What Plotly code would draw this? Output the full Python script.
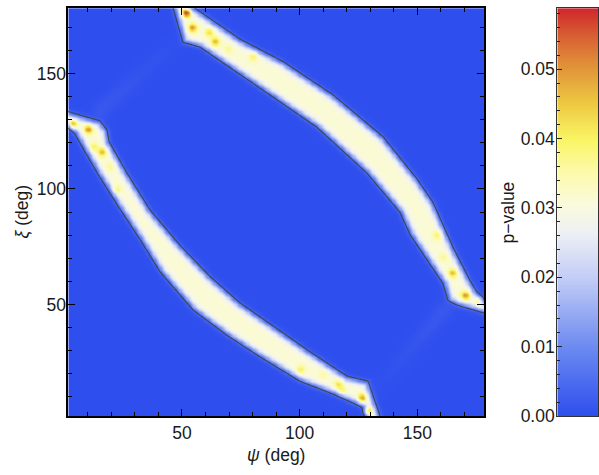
import numpy as np
import plotly.graph_objects as go

# ---------------- data ----------------
P_MAX = 0.0588            # top of the colour bar
AX_RANGE = [1.7, 178.3]   # visible psi / xi range (deg)
CORE_P = 0.0315           # p-value inside the bands
EDGE_P = 0.005            # level of the dark outline contour

# band 1 (lower-left) outline, deg
band1_psi = [-5.0, 0.0, 15.2, 18.1, 19.0, 26.6, 36.4, 48.7, 61.9, 74.6, 89.5, 104.4, 120.1, 129.0, 134.7, 136.0,
             127.5, 128.6, 126.9, 114.1, 100.1, 83.1, 69.1, 54.7, 40.7, 32.2, 23.2, 14.3, 8.8, 4.5, 0.0, -5.0]
band1_xi = [134.5, 134.0, 129.4, 125.6, 120.5, 106.9, 90.9, 76.1, 62.1, 50.7, 40.1, 29.5, 19.0, 16.8, 0.0, -5.0,
            -5.0, 0.0, 5.4, 11.3, 16.8, 27.4, 36.7, 47.7, 64.2, 78.2, 92.1, 106.5, 116.2, 123.9, 129.0, 129.5]

# band 2 (upper-right) outline, deg
band2_psi = [45.3, 45.8, 50.4, 57.6, 78.9, 107.3, 128.6, 142.6, 146.9, 160.9, 163.0, 166.8, 180.0, 185.0,
             185.0, 180.0, 177.4, 172.3, 165.1, 156.6, 149.8, 135.4, 114.1, 92.9, 74.6, 53.0, 52.4]
band2_xi = [185.0, 180.0, 163.6, 161.5, 146.7, 126.8, 106.9, 90.0, 80.3, 59.1, 51.9, 49.8, 45.8, 45.6,
            50.3, 50.5, 51.9, 60.4, 74.8, 94.2, 104.4, 122.6, 140.8, 155.2, 164.9, 180.0, 185.0]

# high p-value spots inside the bands
hot_psi = [3.0, 10.1, 12.2, 16.0, 19.4, 22.0,
           128.6, 126.4, 117.9, 116.2, 109.8, 100.1,
           51.7, 54.2, 61.5, 64.0, 69.5, 80.2,
           176.6, 170.2, 164.7, 160.9, 158.4]
hot_xi = [128.0, 126.0, 118.4, 116.2, 109.9, 99.8,
          3.8, 9.6, 12.6, 15.6, 19.8, 21.9,
          176.5, 170.0, 167.9, 164.0, 160.7, 157.7,
          52.2, 54.1, 63.8, 70.6, 80.3]
hot_p = [0.060, 0.051, 0.041, 0.047, 0.037, 0.041,
         0.060, 0.051, 0.041, 0.043, 0.036, 0.041,
         0.060, 0.051, 0.043, 0.047, 0.037, 0.041,
         0.060, 0.051, 0.047, 0.037, 0.041]

# faint light streaks between the band ends
streak_psi0 = [15.2, 160.9]
streak_xi0 = [134.4, 47.8]
streak_psi1 = [45.7, 134.1]
streak_xi1 = [162.8, 15.6]
streak_p = [0.0016, 0.0016]

x_ticks = [50, 100, 150]
y_ticks = [50, 100, 150]
cb_ticks = [0.0, 0.01, 0.02, 0.03, 0.04, 0.05]

colorscale = [
    [0.00, "rgb(46,78,238)"],
    [0.17, "rgb(108,138,240)"],
    [0.34, "rgb(195,205,246)"],
    [0.45, "rgb(238,240,245)"],
    [0.52, "rgb(250,250,222)"],
    [0.60, "rgb(252,250,170)"],
    [0.68, "rgb(250,245,100)"],
    [0.77, "rgb(237,200,65)"],
    [0.85, "rgb(226,152,58)"],
    [0.93, "rgb(216,98,50)"],
    [1.00, "rgb(208,40,45)"],
]

# ---------------- build the field ----------------
g = np.arange(0.0, 180.01, 0.5)
PS, XI = np.meshgrid(g, g)


def signed_dist(px, py):
    px = np.asarray(px, float)
    py = np.asarray(py, float)
    n = len(px)
    dmin = np.full(PS.shape, np.inf)
    inside = np.zeros(PS.shape, bool)
    for i in range(n):
        j = (i + 1) % n
        ax, ay, bx, by = px[i], py[i], px[j], py[j]
        dx, dy = bx - ax, by - ay
        L2 = dx * dx + dy * dy
        t = np.clip(((PS - ax) * dx + (XI - ay) * dy) / L2, 0, 1)
        d = np.hypot(PS - (ax + t * dx), XI - (ay + t * dy))
        dmin = np.minimum(dmin, d)
        if ay != by:
            cond = ((ay > XI) != (by > XI)) & (PS < dx * (XI - ay) / dy + ax)
            inside ^= cond
    return np.where(inside, dmin, -dmin)


d0, s = 1.3, 0.8
Z = np.zeros(PS.shape)
for bp, bx in ((band1_psi, band1_xi), (band2_psi, band2_xi)):
    sd = signed_dist(bp, bx)
    Z = np.maximum(Z, CORE_P / (1 + np.exp(-(sd - d0) / s)))

base = Z.copy()
for hp, hx, hv in zip(hot_psi, hot_xi, hot_p):
    gauss = np.exp(-((PS - hp) ** 2 + (XI - hx) ** 2) / (2 * 1.35 ** 2))
    Z = Z + (hv - CORE_P) * gauss * np.clip(base / CORE_P, 0, 1) ** 0.5

for a0, b0, a1, b1, sv in zip(streak_psi0, streak_xi0, streak_psi1, streak_xi1, streak_p):
    dx, dy = a1 - a0, b1 - b0
    t = np.clip(((PS - a0) * dx + (XI - b0) * dy) / (dx * dx + dy * dy), 0, 1)
    d = np.hypot(PS - (a0 + t * dx), XI - (b0 + t * dy))
    Z = Z + sv * np.exp(-d ** 2 / (2 * 3.0 ** 2)) * (1 - t * 0.7)

Z = np.round(Z, 5)

# ---------------- figure ----------------
W, H = 599, 475
px_l, px_r, px_t, px_b = 68.3, 484.0, 8.3, 425.0
cb_l, cb_r = 557.3, 598.0

fig = go.Figure()
fig.add_trace(go.Heatmap(x=g, y=g, z=Z, zmin=0, zmax=P_MAX, colorscale=colorscale,
                         zsmooth="best", showscale=False, hoverinfo="skip"))
fig.add_trace(go.Contour(x=g, y=g, z=Z, contours=dict(start=EDGE_P, end=EDGE_P, size=0.01, coloring="none"),
                         line=dict(color="#3c4456", width=1.1, smoothing=1), showscale=False,
                         hoverinfo="skip"))

cb_vals = np.linspace(0, P_MAX, 300)
fig.add_trace(go.Heatmap(x=[0, 1], y=cb_vals, z=np.column_stack([cb_vals, cb_vals]),
                         zmin=0, zmax=P_MAX, colorscale=colorscale, zsmooth="best",
                         showscale=False, hoverinfo="skip", xaxis="x2", yaxis="y2"))

font = dict(family="Liberation Sans, Arial, sans-serif", size=17.5, color="#1a1a1a")
axis_common = dict(showline=True, linecolor="black", linewidth=1.6, mirror="ticks",
                   ticks="inside", ticklen=7, tickwidth=1.2, tickcolor="black",
                   showgrid=False, zeroline=False, tickfont=font,
                   minor=dict(dtick=10, ticks="inside", ticklen=4, tickwidth=1, tickcolor="black"))

fig.update_layout(
    width=W, height=H, margin=dict(l=0, r=0, t=0, b=0),
    paper_bgcolor="white", plot_bgcolor="white", showlegend=False,
    xaxis=dict(domain=[px_l / W, px_r / W], range=AX_RANGE, tickvals=x_ticks, **axis_common),
    yaxis=dict(domain=[1 - px_b / H, 1 - px_t / H], range=AX_RANGE, tickvals=y_ticks,
               ticklabelstandoff=-3, **axis_common),
    xaxis2=dict(domain=[cb_l / W, cb_r / W], range=[0, 1], anchor="y2", showline=True, mirror=True,
                linecolor="#333", linewidth=1.2, showticklabels=False, ticks="", showgrid=False,
                zeroline=False),
    yaxis2=dict(domain=[1 - px_b / H, 1 - px_t / H], range=[0, P_MAX], anchor="x2", side="left",
                tickvals=cb_ticks, tickformat=".2f", ticks="inside", ticklen=5, tickwidth=1,
                tickcolor="#222", showline=True, mirror=True, linecolor="#333", linewidth=1.2,
                showgrid=False, zeroline=False, tickfont=font, ticklabelstandoff=-2,
                minor=dict(dtick=0.002, ticks="inside", ticklen=3, tickwidth=0.8, tickcolor="#222")),
    annotations=[
        dict(text="<i>ψ</i> (deg)", x=(px_l + px_r) / 2 / W, y=1 - 465 / H, xref="paper", yref="paper",
             showarrow=False, font=font, xanchor="center", yanchor="middle"),
        dict(text="<i>ξ</i> (deg)", x=22 / W, y=1 - 216 / H, xref="paper", yref="paper",
             showarrow=False, font=font, textangle=-90, xanchor="center", yanchor="middle"),
        dict(text="p−value", x=508 / W, y=1 - 217 / H, xref="paper", yref="paper",
             showarrow=False, font=font, textangle=-90, xanchor="center", yanchor="middle"),
    ],
)

fig.write_html("out.html")
